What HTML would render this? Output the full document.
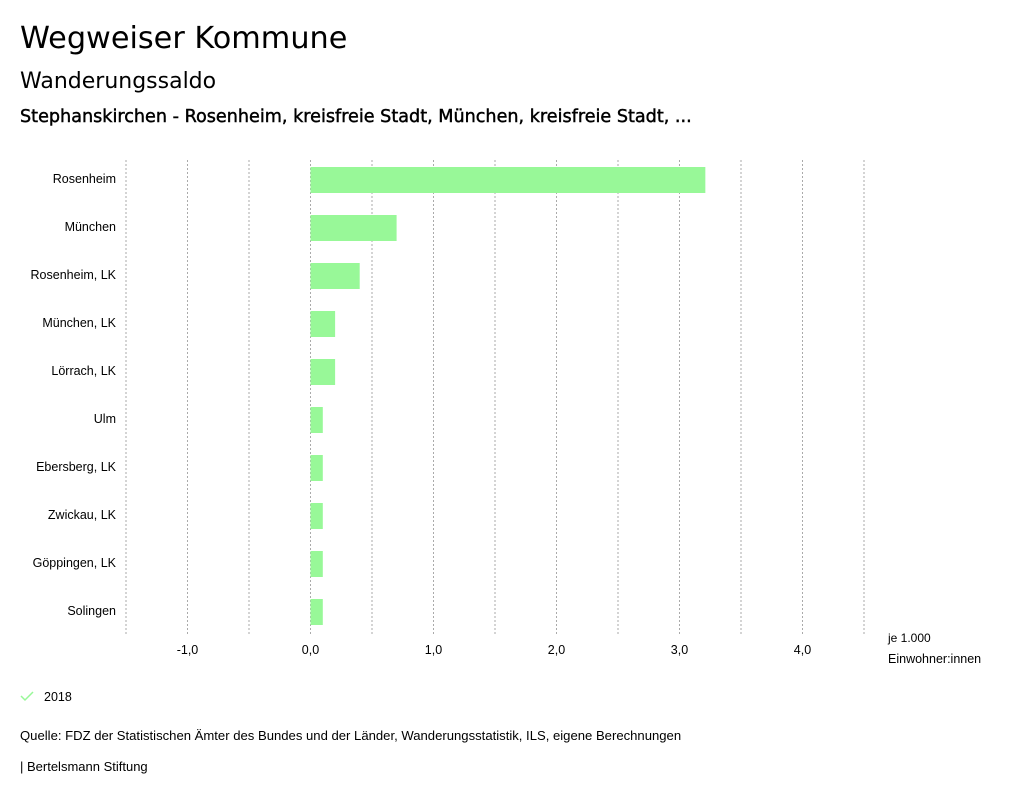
<!DOCTYPE html>
<html><head><meta charset="utf-8"><style>
body{margin:0;background:#fff;width:1024px;height:799px;overflow:hidden;font-family:"Liberation Sans",sans-serif;}
svg text{font-family:"Liberation Sans",sans-serif;}
</style></head><body>
<svg width="1024" height="799" xmlns="http://www.w3.org/2000/svg" id="chart">
<text x="20" y="48" font-size="30.3" fill="#000" style="font-family:'DejaVu Sans',sans-serif">Wegweiser Kommune</text>
<text x="20" y="88" font-size="22" fill="#000" style="font-family:'DejaVu Sans',sans-serif">Wanderungssaldo</text>
<text x="20" y="122" font-size="17.6" fill="#000" stroke="#000" stroke-width="0.45" style="font-family:'DejaVu Sans',sans-serif">Stephanskirchen - Rosenheim, kreisfreie Stadt, München, kreisfreie Stadt, ...</text>
<g id="grid"></g><g id="bars"></g><g id="ylabels"></g><g id="xlabels"></g>
<text x="888" y="642" font-size="12" fill="#000">je 1.000</text>
<text x="888" y="663" font-size="12.5" fill="#000">Einwohner:innen</text>
<path d="M21 696 l4 4 l8 -8" stroke="#98f898" stroke-width="1.5" fill="none"/>
<text x="44" y="701" font-size="12.5" fill="#000">2018</text>
<text x="20" y="740" font-size="13.1" fill="#000">Quelle: FDZ der Statistischen Ämter des Bundes und der Länder, Wanderungsstatistik, ILS, eigene Berechnungen</text>
<text x="20" y="771" font-size="13" fill="#000">| Bertelsmann Stiftung</text>
</svg>
<script>
const categories=["Rosenheim","München","Rosenheim, LK","München, LK","Lörrach, LK","Ulm","Ebersberg, LK","Zwickau, LK","Göppingen, LK","Solingen"];
const values=[3.21,0.70,0.40,0.20,0.20,0.10,0.10,0.10,0.10,0.10];
const tickValues=[-1,0,1,2,3,4];
const tickLabels=["-1,0","0,0","1,0","2,0","3,0","4,0"];
const gridValues=[-1.5,-1,-0.5,0,0.5,1,1.5,2,2.5,3,3.5,4,4.5];
const NS="http://www.w3.org/2000/svg";
const x0=126,x1=864,dmin=-1.5,dmax=4.5;
function xs(v){return x0+(v-dmin)/(dmax-dmin)*(x1-x0);}
function yc(i){return 180+i*48;}
function mk(t,a,p){const e=document.createElementNS(NS,t);for(const k in a)e.setAttribute(k,a[k]);p.appendChild(e);return e;}
const G=document.getElementById('grid'),B=document.getElementById('bars'),YL=document.getElementById('ylabels'),XL=document.getElementById('xlabels');
gridValues.forEach(v=>{const l=mk('line',{x1:xs(v),x2:xs(v),y1:160,y2:635,stroke:'#aaa','stroke-width':1,'stroke-dasharray':'2,2'},G);

});
categories.forEach((c,i)=>{const v=values[i];const a=Math.min(xs(0),xs(v)),w=Math.abs(xs(v)-xs(0));
const r=mk('rect',{x:a,y:yc(i)-13,width:w,height:26,fill:'#98f898'},B);


const t=mk('text',{x:116,y:yc(i)+3,'font-size':12.5,'text-anchor':'end',fill:'#000'},YL);t.textContent=c;

});
tickValues.forEach((v,i)=>{const t=mk('text',{x:xs(v),y:654,'font-size':12.5,'text-anchor':'middle',fill:'#000'},XL);t.textContent=tickLabels[i];

});
</script>
</body></html>
